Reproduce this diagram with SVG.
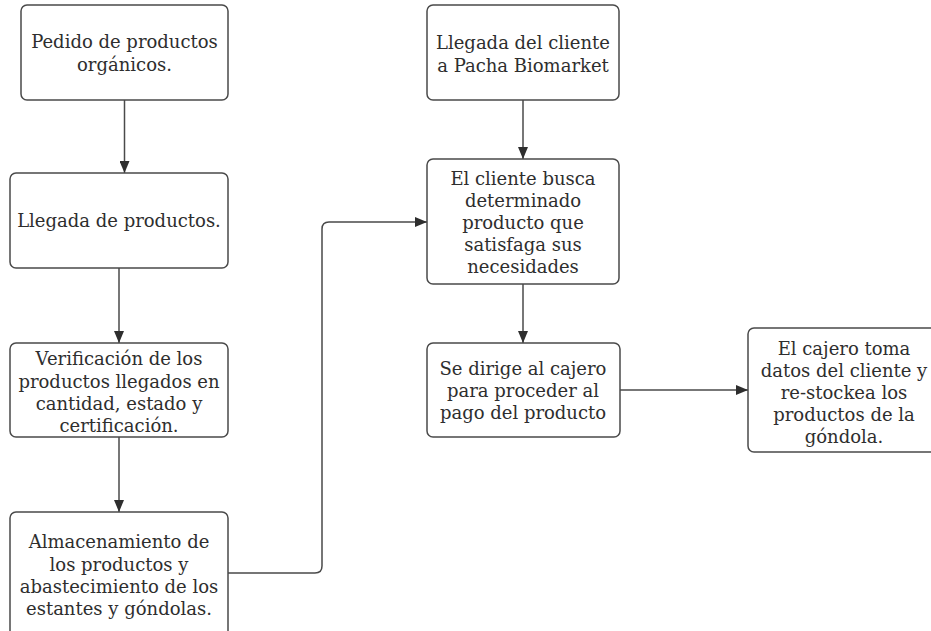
<svg xmlns="http://www.w3.org/2000/svg" width="931" height="631" viewBox="0 0 931 631">
  <style>
    .box { fill: #ffffff; stroke: #4a4a4a; stroke-width: 1.5; }
    .lbl { font-family: "DejaVu Serif", "Liberation Serif", serif; font-size: 18px; fill: #2e2e2e; text-anchor: middle; }
    .wire { fill: none; stroke: #4a4a4a; stroke-width: 1.5; }
  </style>
  <defs>
    <marker id="arrow" viewBox="0 0 12 10" refX="12" refY="5" markerWidth="12" markerHeight="10" markerUnits="userSpaceOnUse" orient="auto">
      <path d="M0,0 L12,5 L0,10 Z" fill="#2e2e2e"/>
    </marker>
  </defs>
  <rect width="931" height="631" fill="#ffffff"/>

  <g id="connectors">
    <path class="wire" d="M124.5,100 V173" marker-end="url(#arrow)"/>
    <path class="wire" d="M119,268 V343" marker-end="url(#arrow)"/>
    <path class="wire" d="M119,437 V512" marker-end="url(#arrow)"/>
    <path class="wire" d="M228,573 H315 Q322,573 322,566 V229 Q322,222 329,222 H427" marker-end="url(#arrow)"/>
    <path class="wire" d="M523,100 V159" marker-end="url(#arrow)"/>
    <path class="wire" d="M523,284 V343" marker-end="url(#arrow)"/>
    <path class="wire" d="M620,390 H748" marker-end="url(#arrow)"/>
  </g>

  <g id="pedido">
    <rect class="box" x="21" y="5" width="207" height="95" rx="6"/>
    <text class="lbl" x="124.5" y="48">Pedido de productos</text>
    <text class="lbl" x="124.5" y="71">orgánicos.</text>
  </g>

  <g id="llegada-productos">
    <rect class="box" x="10" y="173" width="218" height="95" rx="6"/>
    <text class="lbl" x="119" y="227">Llegada de productos.</text>
  </g>

  <g id="verificacion">
    <rect class="box" x="10" y="343" width="218" height="94" rx="6"/>
    <text class="lbl" x="119" y="365">Verificación de los</text>
    <text class="lbl" x="119" y="387.5">productos llegados en</text>
    <text class="lbl" x="119" y="410">cantidad, estado y</text>
    <text class="lbl" x="119" y="432">certificación.</text>
  </g>

  <g id="almacenamiento">
    <rect class="box" x="10" y="512" width="218" height="130" rx="6"/>
    <text class="lbl" x="119" y="548">Almacenamiento de</text>
    <text class="lbl" x="119" y="570.5">los productos y</text>
    <text class="lbl" x="119" y="593">abastecimiento de los</text>
    <text class="lbl" x="119" y="615">estantes y góndolas.</text>
  </g>

  <g id="llegada-cliente">
    <rect class="box" x="427" y="5" width="192" height="95" rx="6"/>
    <text class="lbl" x="523" y="49">Llegada del cliente</text>
    <text class="lbl" x="523" y="72">a Pacha Biomarket</text>
  </g>

  <g id="busca-producto">
    <rect class="box" x="427" y="159" width="192" height="125" rx="6"/>
    <text class="lbl" x="523" y="185">El cliente busca</text>
    <text class="lbl" x="523" y="207">determinado</text>
    <text class="lbl" x="523" y="229">producto que</text>
    <text class="lbl" x="523" y="251">satisfaga sus</text>
    <text class="lbl" x="523" y="273">necesidades</text>
  </g>

  <g id="cajero">
    <rect class="box" x="427" y="343" width="193" height="94" rx="6"/>
    <text class="lbl" x="523" y="375">Se dirige al cajero</text>
    <text class="lbl" x="523" y="397">para proceder al</text>
    <text class="lbl" x="523" y="419">pago del producto</text>
  </g>

  <g id="restock">
    <rect class="box" x="748" y="328" width="192" height="124" rx="6"/>
    <text class="lbl" x="844" y="355">El cajero toma</text>
    <text class="lbl" x="844" y="377">datos del cliente y</text>
    <text class="lbl" x="844" y="399">re-stockea los</text>
    <text class="lbl" x="844" y="421">productos de la</text>
    <text class="lbl" x="844" y="443">góndola.</text>
  </g>
</svg>
